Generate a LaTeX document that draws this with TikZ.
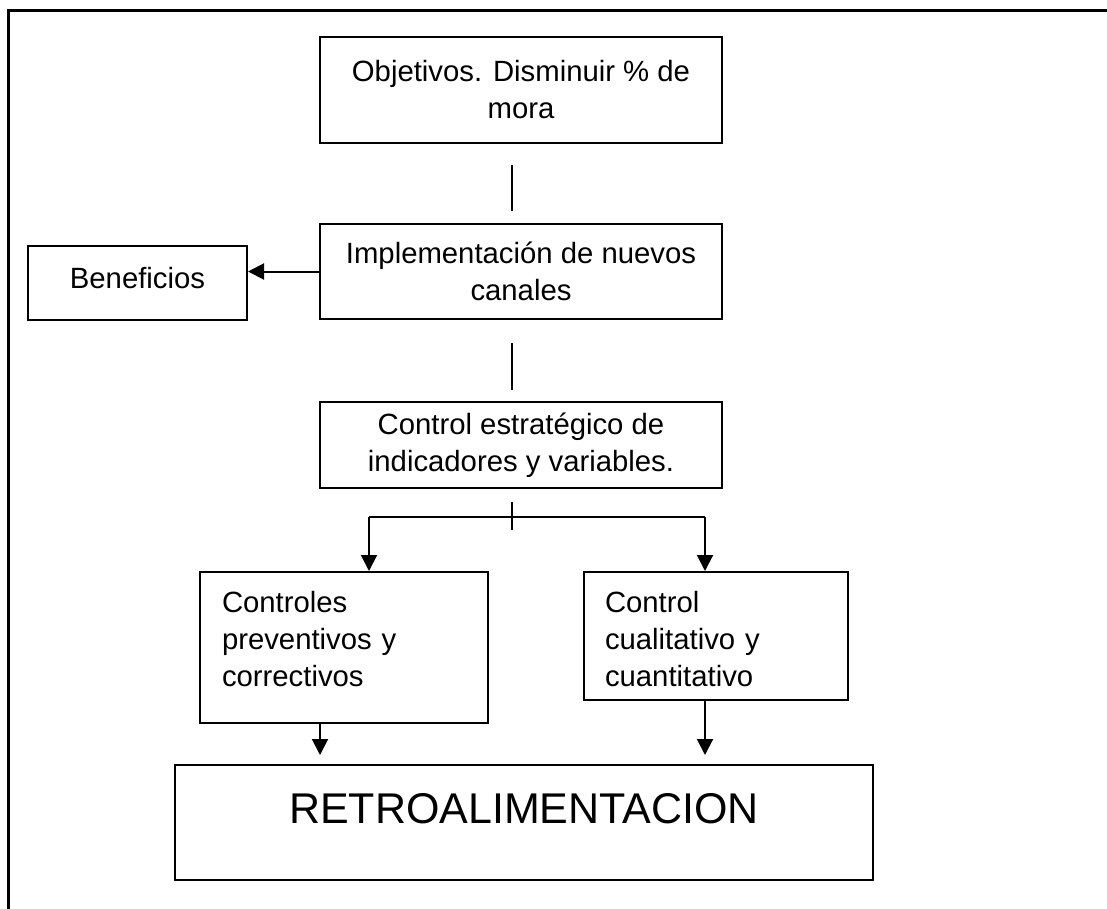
\documentclass[tikz,border=0pt]{standalone}
\usepackage{fontspec}
\setmainfont{Liberation Sans}
\usetikzlibrary{arrows.meta,positioning}
\tikzset{every picture/.style={line width=2bp}}
\tikzset{font=\fontsize{29.3bp}{37bp}\selectfont}
\tikzstyle{caja}=[draw,rectangle,inner sep=0pt,align=center]
\tikzstyle{cajaizq}=[draw,rectangle,inner sep=0pt,align=left]
\tikzstyle{flecha}=[-{Triangle[width=16bp,length=16bp]}]

\begin{document}
\begin{tikzpicture}[x=1bp,y=-1bp]
\useasboundingbox (0,0) rectangle (1107,909);
\draw[line width=3bp] (8,909) -- (8,10) -- (1107,10);
\node[caja,minimum width=402bp,minimum height=106bp] (obj) at (521,90) {Objetivos. Disminuir \% de\\mora};
\node[caja,minimum width=402bp,minimum height=95bp] (impl) at (521,271.5) {Implementación de nuevos\\canales};
\node[caja,text height=42bp,text depth=32bp,minimum width=219bp,minimum height=74bp] (ben) at (137.5,283) {Beneficios};
\node[caja,minimum width=402bp,minimum height=86bp] (ctrl) at (521,445) {Control estratégico de\\indicadores y variables.};
\node[cajaizq,text width=244bp,text height=40bp,text depth=111bp,minimum width=288bp,minimum height=151bp] (prev) at (344,647.5) {Controles\\preventivos y\\correctivos};
\node[cajaizq,text width=222bp,text height=40bp,text depth=88bp,minimum width=264bp,minimum height=128bp] (cual) at (716,636) {Control\\cualitativo y\\cuantitativo};
\node[caja,font=\fontsize{43bp}{50bp}\selectfont,text height=58bp,text depth=57bp,minimum width=698bp,minimum height=115bp] (retro) at (524,822.5) {RETROALIMENTACION};
% lineas sueltas
\coordinate (l1a) at (512,165);
\coordinate (l1b) at (512,211);
\coordinate (l2a) at (512,343);
\coordinate (l2b) at (512,390);
\coordinate (t1) at (512,502);
\coordinate (t2) at (512,530);
\coordinate (b1) at (369,517);
\coordinate (b2) at (705,517);
\coordinate (c1) at (320,755);
\coordinate (c2) at (705,755);
\draw (l1a) -- (l1b);
\draw (l2a) -- (l2b);
\draw (t1) -- (t2);
\draw[flecha] (impl.west) -- (impl.west -| ben.east);
\draw[flecha] (b1) -- (prev.north -| b1);
\draw (b1) -- (b2);
\draw[flecha] (b2) -- (cual.north -| b2);
\draw[flecha] (prev.south -| c1) -- (c1);
\draw[flecha] (cual.south -| c2) -- (c2);
\end{tikzpicture}
\end{document}
